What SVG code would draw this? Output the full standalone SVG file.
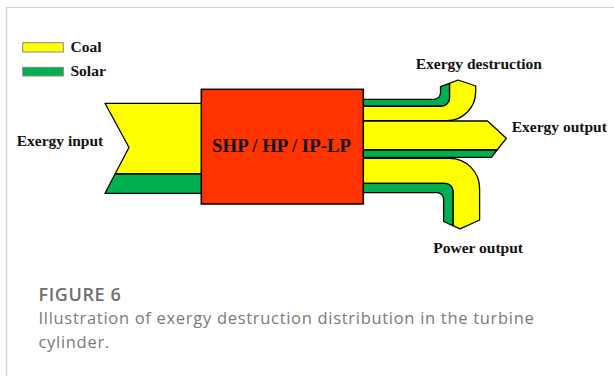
<svg xmlns="http://www.w3.org/2000/svg" width="614" height="376" viewBox="0 0 614 376">
<style>
.lbl{font-family:"Liberation Serif","Times New Roman",serif;font-weight:bold;font-size:15.5px;fill:#111}
.y{fill:#ffff00;stroke:#000;stroke-width:1.3;stroke-linejoin:round}
.g{fill:#00b050;stroke:#000;stroke-width:1.3;stroke-linejoin:round}
.leg{stroke:#888;stroke-width:1}
.cap{font-family:"Open Sans","Noto Sans",sans-serif;fill:#7a7a7a}
</style>
<rect width="614" height="376" fill="#fff"/>
<path d="M6.5,376 V7.5 H614" fill="none" stroke="#cfcfcf" stroke-width="1.2"/>
<g id="legend">
<rect x="22.7" y="42.7" width="40.6" height="9.3" fill="#ffff00" class="leg"/>
<text x="70.5" y="52" class="lbl">Coal</text>
<rect x="22.7" y="67.3" width="40.6" height="8.7" fill="#00b050" class="leg"/>
<text x="70.5" y="76.3" class="lbl">Solar</text>
</g>
<g id="connectors">
<g id="exergy-input">
<path class="y" d="M105,103.3 H202 V174 H115 L129,147.5 Z"/>
<path class="g" d="M115,174 H202 V193.3 H105 Z"/>
</g>
<g id="exergy-destruction-flow">
<path class="y" d="M362,106 H441.5 A8,8 0 0 0 449.5,98 V83.3 L458,80 L475.7,86 V91.7 A29,29 0 0 1 446.7,120.7 H362 Z"/>
<path class="g" d="M362,99.3 H434 A6.5,6.5 0 0 0 440.5,92.8 V86.7 L449.5,83.3 V98 A8,8 0 0 1 441.5,106 H362 Z"/>
</g>
<g id="exergy-output-flow">
<path class="y" d="M362,121 H487.5 L506.3,138.3 L497.1,150 H362 Z"/>
<path class="g" d="M362,150 H497.1 L491.4,157.3 H362 Z"/>
</g>
<g id="power-output-flow">
<path class="y" d="M362,158.3 H449.6 A30,30 0 0 1 479.6,188.3 V220 L460,228.8 L453,225.7 V191.3 A8,8 0 0 0 445,183.3 H362 Z"/>
<path class="g" d="M362,183.3 H445 A8,8 0 0 1 453,191.3 V225.7 L443.6,221.5 V199.2 A6.5,6.5 0 0 0 437.1,192.7 H362 Z"/>
</g>
</g>
<g id="turbine">
<rect x="201.3" y="89.3" width="162" height="114.7" fill="#ff3300" stroke="#000" stroke-width="1.5"/>
<text x="281.5" y="152" text-anchor="middle" class="lbl" style="font-size:18.8px">SHP / HP / IP-LP</text>
</g>
<g id="labels">
<text x="16.7" y="146" class="lbl">Exergy input</text>
<text x="415.7" y="69.3" class="lbl">Exergy destruction</text>
<text x="511.7" y="131.7" class="lbl">Exergy output</text>
<text x="433.3" y="252.7" class="lbl">Power output</text>
</g>
<g id="caption">
<text x="38.5" y="300.7" class="cap" style="font-size:18px;font-weight:600;fill:#6f6f6f;letter-spacing:0.6px">FIGURE 6</text>
<text x="38.5" y="324.3" class="cap" style="font-size:16.5px;letter-spacing:0.7px">Illustration of exergy destruction distribution in the turbine</text>
<text x="38.5" y="348.3" class="cap" style="font-size:16.5px;letter-spacing:0.7px">cylinder.</text>
</g>
</svg>
